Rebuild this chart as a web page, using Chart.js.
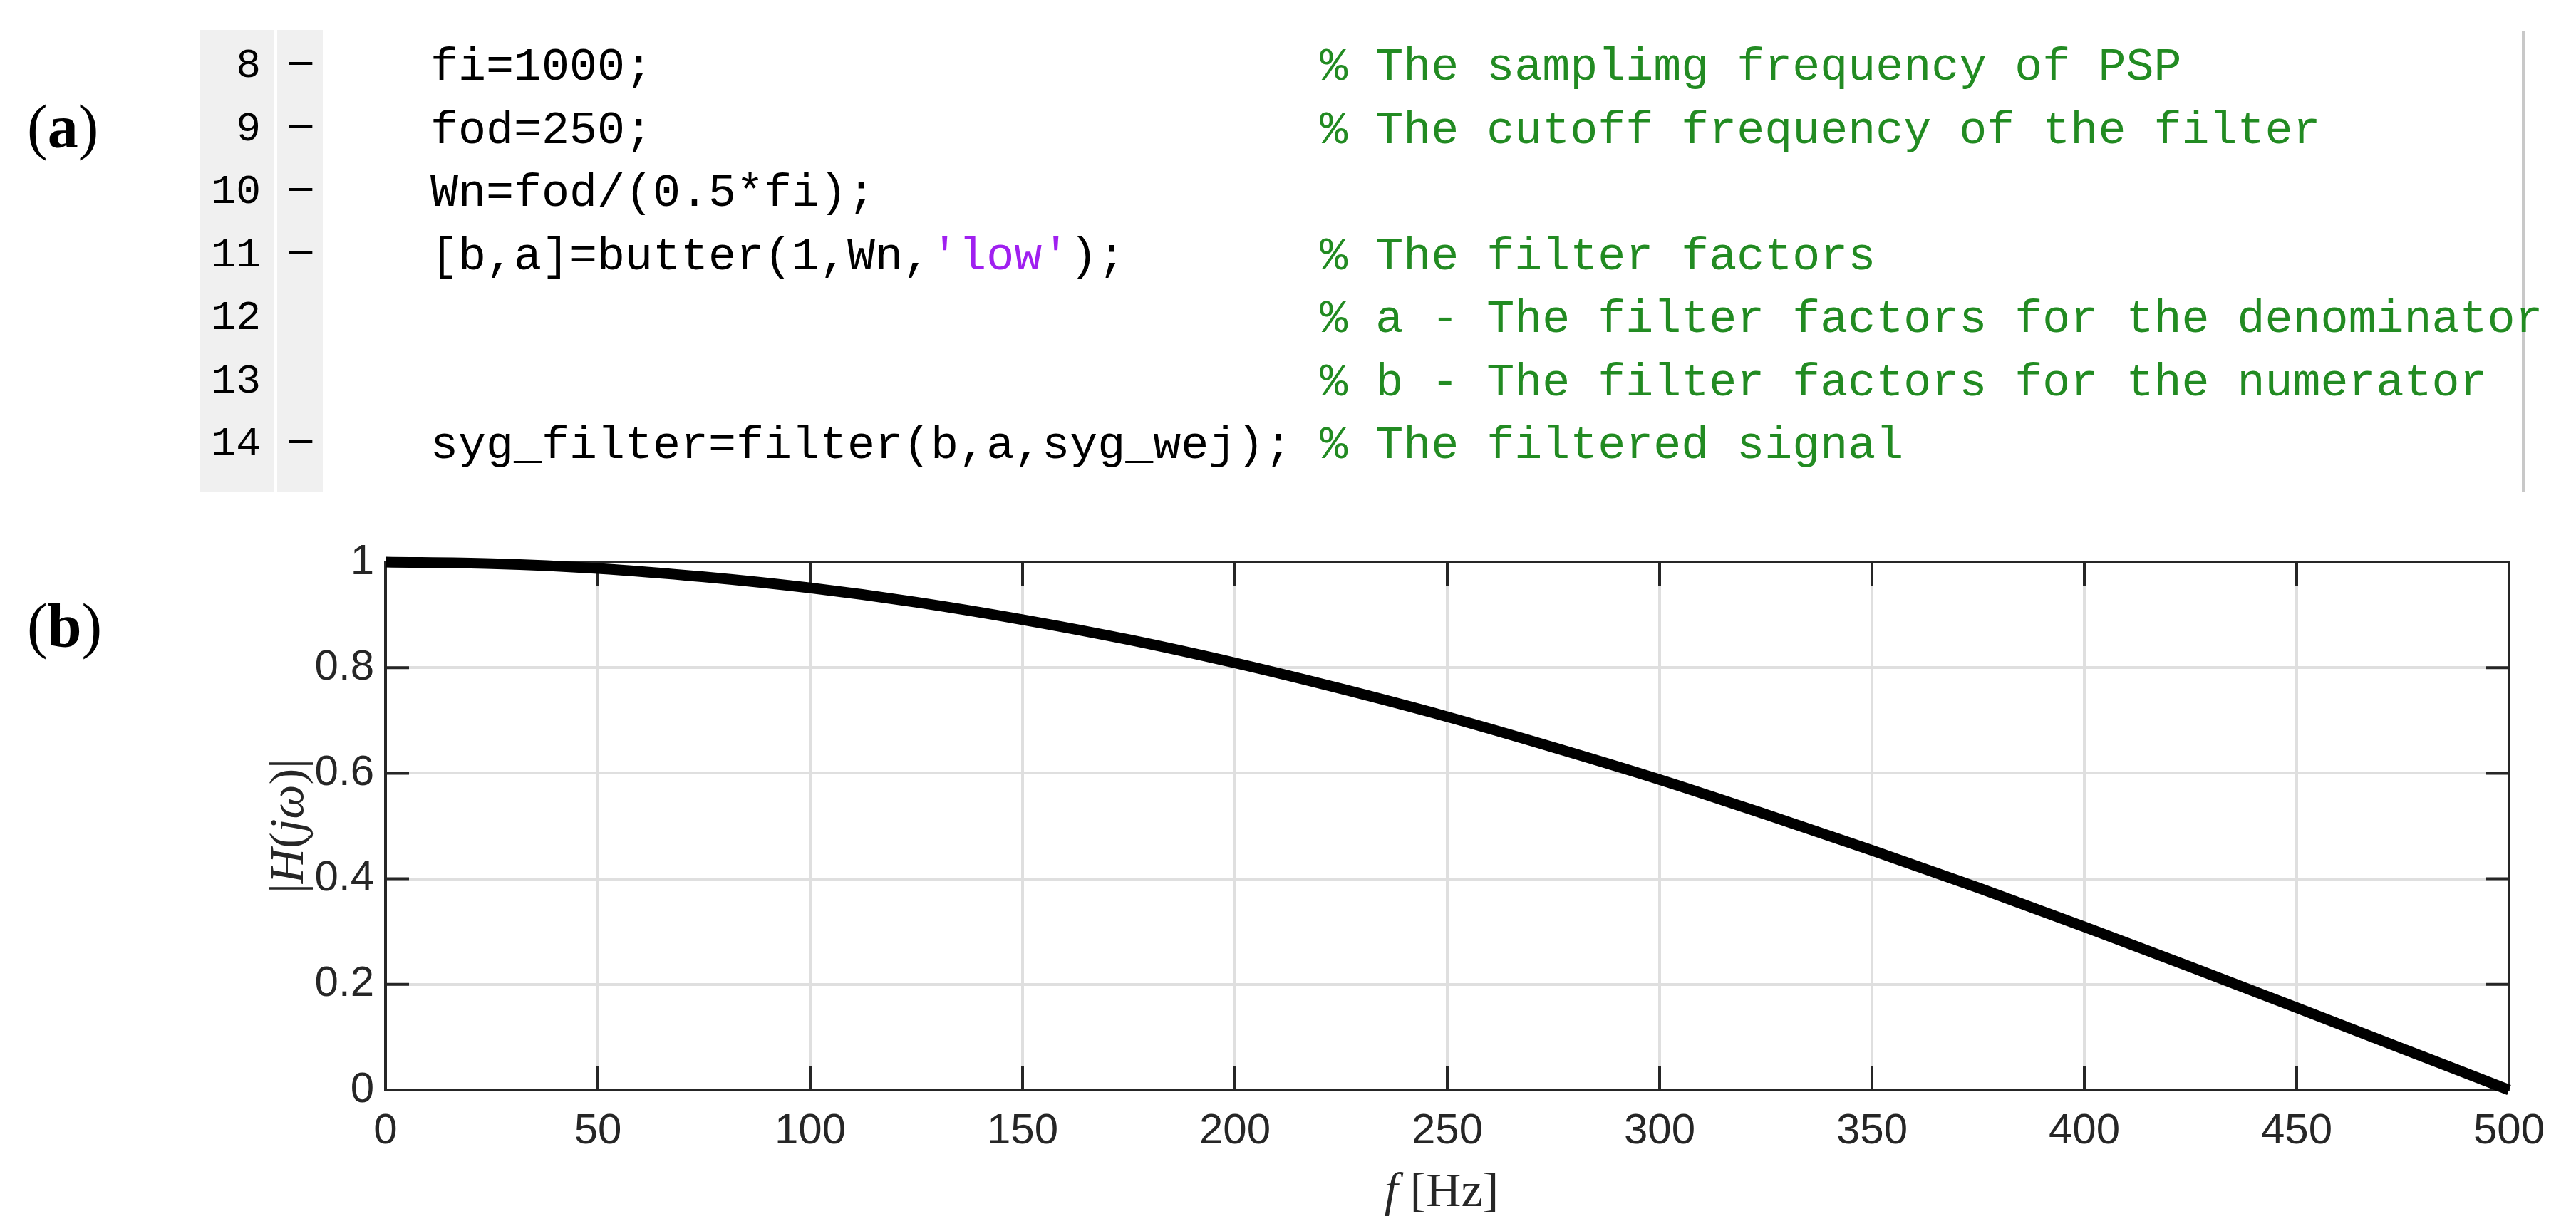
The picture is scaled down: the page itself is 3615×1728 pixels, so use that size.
<!DOCTYPE html>
<html>
<head>
<meta charset="utf-8">
<title>Low-pass filter response</title>
<script src="https://cdn.jsdelivr.net/npm/chart.js@4.4.1/dist/chart.umd.min.js"></script>
<style>
    html, body { margin: 0; padding: 0; background: #fff; }
    body { width: 3615px; height: 1728px; position: relative; overflow: hidden; }
    #chartBox { position: absolute; left: 0; top: 0; width: 3615px; height: 1728px; }

    .panel-label { position: absolute; left: 38px; font-family: "Liberation Serif", serif; font-size: 86px; line-height: 86px; color: #000; }
    .panel-label b { font-weight: bold; }

    .gutter { position: absolute; top: 42px; height: 648px; background: #f0f0f0; }
    .editor-edge { position: absolute; left: 3539px; top: 43px; width: 4px; height: 647px; background: #c8c8c8; }

    pre { position: absolute; margin: 0; white-space: pre; line-height: 88.5px; }
    #lineNums { left: 281px; width: 85px; top: 49px; text-align: right; font-family: "Liberation Mono", monospace; font-size: 58px; color: #000; }
    #marks { left: 405px; top: 40px; font-family: "Liberation Sans", sans-serif; font-size: 60px; color: #000; }
    #code { left: 604px; top: 51px; font-family: "Liberation Mono", monospace; font-size: 65px; color: #000; }
    .cm { color: #228b22; }
    .str { color: #a020f0; }
</style>
</head>
<body>
<div id="chartBox"><canvas id="filterChart"></canvas></div>

<!-- (a) MATLAB editor snippet -->
<div class="panel-label" style="top:135px">(<b>a</b>)</div>
<div class="gutter" style="left:281px; width:104px"></div>
<div class="gutter" style="left:389px; width:64px"></div>
<div class="editor-edge"></div>
<pre id="lineNums">8
9
10
11
12
13
14</pre>
<pre id="marks">–
–
–
–


–</pre>
<pre id="code">fi=1000;                        <span class="cm">% The samplimg frequency of PSP</span>
fod=250;                        <span class="cm">% The cutoff frequency of the filter</span>
Wn=fod/(0.5*fi);
[b,a]=butter(1,Wn,<span class="str">'low'</span>);       <span class="cm">% The filter factors</span>
                                <span class="cm">% a - The filter factors for the denominator</span>
                                <span class="cm">% b - The filter factors for the numerator</span>
syg_filter=filter(b,a,syg_wej); <span class="cm">% The filtered signal</span></pre>

<!-- (b) label -->
<div class="panel-label" style="top:835px">(<b>b</b>)</div>

<script>
// values
const freqHz = [0, 25, 50, 75, 100, 125, 150, 175, 200, 225, 250, 275, 300, 325, 350, 375, 400, 425, 450, 475, 500];
const magnitude = [1.000, 0.997, 0.988, 0.972, 0.951, 0.924, 0.891, 0.853, 0.809, 0.760, 0.707, 0.649, 0.588, 0.522, 0.454, 0.383, 0.309, 0.233, 0.156, 0.078, 0.000];
const xTicks = [0, 50, 100, 150, 200, 250, 300, 350, 400, 450, 500];
const yTicks = [0, 0.2, 0.4, 0.6, 0.8, 1];

const AXIS_COLOR = '#262626';
const TICK_LEN = 33;

// MATLAB-style box: top/right edges and inward ticks on all four sides
const boxTicks = {
    id: 'boxTicks',
    beforeDatasetsDraw(chart) {
        const { ctx, chartArea: a, scales: { x, y } } = chart;
        ctx.save();
        ctx.strokeStyle = AXIS_COLOR;
        ctx.lineWidth = 4;
        ctx.beginPath();
        ctx.moveTo(a.left - 2, a.top);
        ctx.lineTo(a.right, a.top);
        ctx.lineTo(a.right, a.bottom + 2);
        xTicks.forEach(v => {
            const px = x.getPixelForValue(v);
            ctx.moveTo(px, a.bottom);
            ctx.lineTo(px, a.bottom - TICK_LEN);
            ctx.moveTo(px, a.top);
            ctx.lineTo(px, a.top + TICK_LEN);
        });
        yTicks.forEach(v => {
            const py = y.getPixelForValue(v);
            ctx.moveTo(a.left, py);
            ctx.lineTo(a.left + TICK_LEN, py);
            ctx.moveTo(a.right, py);
            ctx.lineTo(a.right - TICK_LEN, py);
        });
        ctx.stroke();
        ctx.restore();
    }
};

// axis titles mix italic and upright serif text
function drawRuns(ctx, runs, cx, baseline) {
    const size = 68;
    const fontOf = r => (r.it ? 'italic ' : '') + size + 'px "Liberation Serif", serif';
    let total = 0;
    runs.forEach(r => { ctx.font = fontOf(r); total += ctx.measureText(r.t).width; });
    let x = cx - total / 2;
    ctx.textBaseline = 'alphabetic';
    ctx.textAlign = 'left';
    runs.forEach(r => {
        ctx.font = fontOf(r);
        ctx.fillText(r.t, x, baseline);
        x += ctx.measureText(r.t).width;
    });
}

const axisTitles = {
    id: 'axisTitles',
    afterDraw(chart) {
        const { ctx, chartArea: a } = chart;
        ctx.save();
        ctx.fillStyle = AXIS_COLOR;
        drawRuns(ctx, [{ t: 'f', it: true }, { t: ' [Hz]' }], (a.left + a.right) / 2 - 8, 1693);
        ctx.translate(425, (a.top + a.bottom) / 2);
        ctx.rotate(-Math.PI / 2);
        drawRuns(ctx, [
            { t: '|' }, { t: 'H', it: true }, { t: '(' }, { t: 'jω', it: true }, { t: ')' }, { t: '|' }
        ], 0, 0);
        ctx.restore();
    }
};

const tickFont = { family: '"Liberation Sans", Arial, sans-serif', size: 60 };

const ctx = document.getElementById('filterChart').getContext('2d');
const filterChart = new Chart(ctx, {
    type: 'line',
    data: {
        datasets: [{
            data: freqHz.map((f, i) => ({ x: f, y: magnitude[i] })),
            borderColor: '#000',
            borderWidth: 15,
            pointRadius: 0,
            cubicInterpolationMode: 'monotone',
            clip: false
        }]
    },
    options: {
        responsive: true,
        maintainAspectRatio: false,
        animation: false,
        devicePixelRatio: 1,
        layout: { padding: { left: 0, top: 789, right: 94, bottom: 0 } },
        plugins: { legend: { display: false }, tooltip: { enabled: false } },
        scales: {
            x: {
                type: 'linear',
                min: 0,
                max: 500,
                afterBuildTicks: s => { s.ticks = xTicks.map(v => ({ value: v })); },
                afterFit: s => { s.height = 198; },
                grid: { color: '#dfdfdf', lineWidth: 4, drawTicks: false },
                border: { display: true, color: AXIS_COLOR, width: 4 },
                ticks: { font: tickFont, color: AXIS_COLOR, padding: 22, maxRotation: 0, autoSkip: false }
            },
            y: {
                type: 'linear',
                min: 0,
                max: 1,
                afterBuildTicks: s => { s.ticks = yTicks.map(v => ({ value: v })); },
                afterFit: s => { s.width = 541; },
                grid: { color: '#dfdfdf', lineWidth: 4, drawTicks: false },
                border: { display: true, color: AXIS_COLOR, width: 4 },
                ticks: { font: tickFont, color: AXIS_COLOR, padding: 16, callback: v => String(v) }
            }
        }
    },
    plugins: [boxTicks, axisTitles]
});
</script>
</body>
</html>
